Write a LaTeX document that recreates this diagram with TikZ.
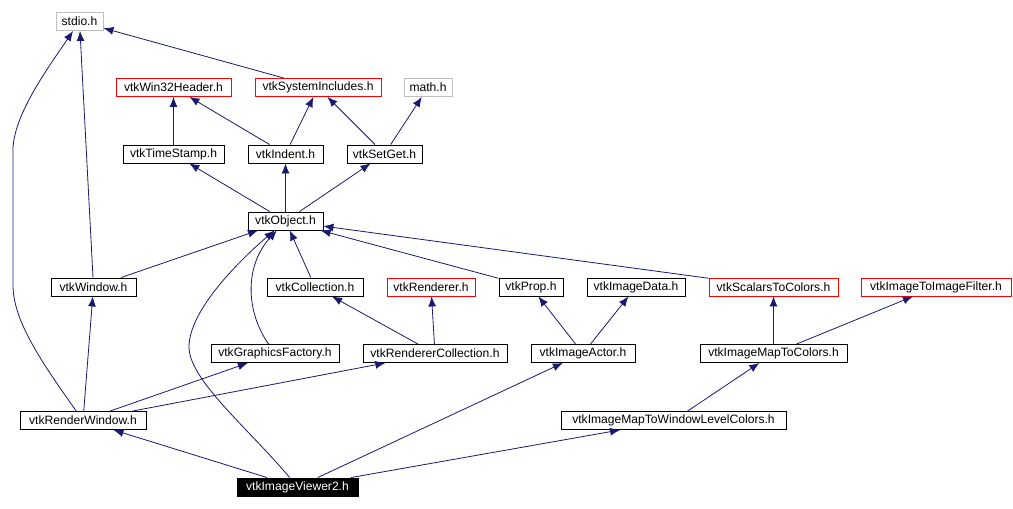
\documentclass[tikz,border=0pt]{standalone}
\usepackage{fontspec}
\setmainfont{Liberation Sans}
\usepackage{xcolor}
\usepackage{tikz}
\usetikzlibrary{arrows.meta}
\definecolor{depblue}{HTML}{191970}
\definecolor{sysgray}{HTML}{BFBFBF}
\definecolor{undocred}{HTML}{FF0000}

\begin{document}
\begin{tikzpicture}[
  x=1pt, y=-1pt,
  hbox/.style={draw=black, line width=0.9pt, inner sep=0pt, minimum height=18pt,
               font=\fontsize{12.1}{14}\selectfont},
  plainbox/.style={hbox},
  sysbox/.style={hbox, draw=sysgray},
  redbox/.style={hbox, draw=undocred},
  rootbox/.style={hbox, fill=black, text=white},
  dep/.style={draw=depblue, line width=0.8pt, -{Latex[length=10pt,width=8pt]}},
]
\useasboundingbox (0,0) rectangle (1013,509);

% --- Header boxes: name / centre x / centre y / width / style / label
\foreach \nm/\cx/\cy/\bw/\sty/\lbl in {%
  stdio/79.5/21.5/47/sysbox/stdio.h,
  win32/173.5/87.5/115/redbox/vtkWin32Header.h,
  sysinc/318/87.5/126/redbox/vtkSystemIncludes.h,
  math/428/87.5/48/sysbox/math.h,
  tstamp/173.5/154/101/plainbox/vtkTimeStamp.h,
  indent/285.5/154/75/plainbox/vtkIndent.h,
  setget/384.5/154/75/plainbox/vtkSetGet.h,
  object/285.5/221/75/plainbox/vtkObject.h,
  window/93.5/287/85/plainbox/vtkWindow.h,
  coll/315/287/96/plainbox/vtkCollection.h,
  renderer/431/287/88/redbox/vtkRenderer.h,
  prop/531/287/64/plainbox/vtkProp.h,
  imgdata/636/287/98/plainbox/vtkImageData.h,
  scalars/773.5/287/129/redbox/vtkScalarsToColors.h,
  imgfilt/936/287/150/redbox/vtkImageToImageFilter.h,
  gfac/275/353.5/128/plainbox/vtkGraphicsFactory.h,
  rcoll/435/353.5/144/plainbox/vtkRendererCollection.h,
  actor/583/353.5/104/plainbox/vtkImageActor.h,
  mapcol/773.5/353.5/147/plainbox/vtkImageMapToColors.h,
  rwin/83/420.5/126/plainbox/vtkRenderWindow.h,
  wlcol/673.5/420.5/225/plainbox/vtkImageMapToWindowLevelColors.h,
  viewer/297.5/487/121/rootbox/vtkImageViewer2.h%
} {
  \node[\sty, minimum width=\bw pt] (\nm) at (\cx,\cy) {\lbl};
}

% --- Straight include edges: includer / included
\foreach \a/\b in {%
  sysinc/stdio, window/stdio, tstamp/win32, indent/win32, indent/sysinc,
  setget/sysinc, setget/math, object/tstamp, object/indent, object/setget,
  window/object, coll/object, prop/object, scalars/object,
  rcoll/coll, rcoll/renderer, actor/prop, actor/imgdata,
  mapcol/scalars, mapcol/imgfilt, rwin/window, rwin/gfac, rwin/rcoll,
  wlcol/mapcol, viewer/rwin, viewer/actor, viewer/wlcol%
} {
  \draw[dep] (\a) -- (\b);
}

% --- Curved edges
\draw[dep] (rwin) .. controls (40,360) and (13,320) .. (13,285) -- (13,150)
  .. controls (13,115) and (50,65) .. (stdio);
\draw[dep] (gfac) .. controls (245,310) and (245,265) .. (object);
\draw[dep] (viewer) .. controls (250,430) and (189,380) .. (189,347)
  .. controls (189,310) and (240,260) .. (object);
\end{tikzpicture}
\end{document}
